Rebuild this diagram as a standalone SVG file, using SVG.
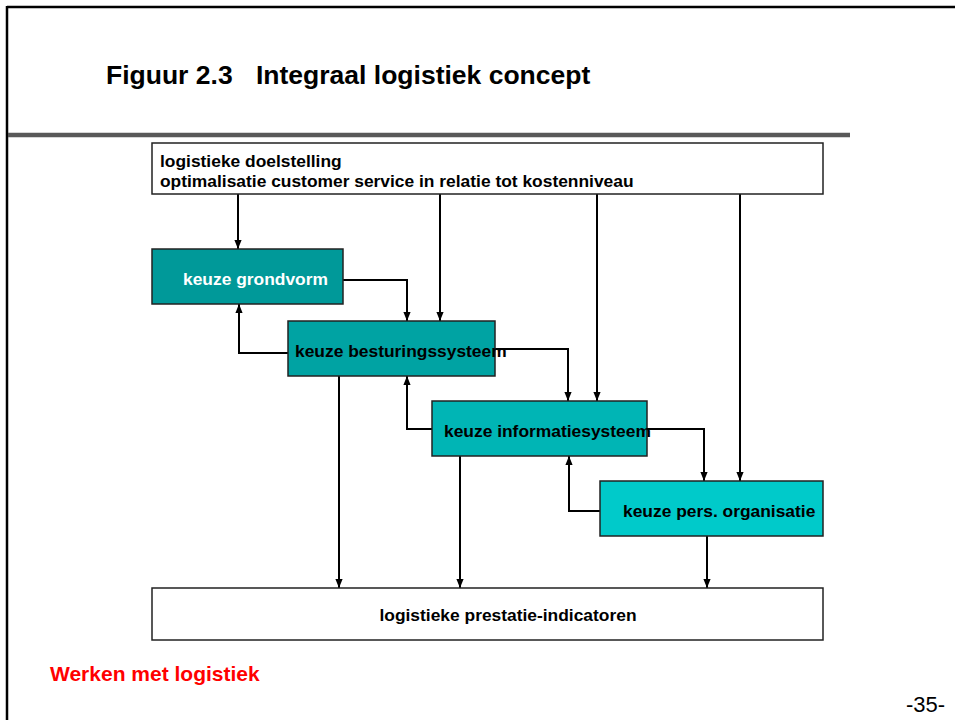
<svg xmlns="http://www.w3.org/2000/svg" width="955" height="720" viewBox="0 0 955 720">
<defs>
<style>
.t{font-family:"Liberation Sans",Arial,sans-serif;font-weight:bold;}
.s{font-size:17.4px;}
.box{stroke:#222;stroke-width:1.5;}
.c{fill:none;stroke:#000;stroke-width:2;marker-end:url(#ah);}
</style>
<marker id="ah" viewBox="0 0 10 10" refX="10" refY="5" markerWidth="9" markerHeight="9" markerUnits="userSpaceOnUse" orient="auto">
<path d="M0,1 L10,5 L0,9 Z" fill="#000"/>
</marker>
</defs>
<rect width="955" height="720" fill="#fff"/>
<g id="frame">
<line x1="7" y1="7" x2="955" y2="7" stroke="#000" stroke-width="2.5"/>
<line x1="7" y1="6" x2="7" y2="720" stroke="#000" stroke-width="2.5"/>
<line x1="8" y1="135" x2="850" y2="135" stroke="#595959" stroke-width="4.5"/>
</g>
<g id="title">
<text class="t" x="106" y="84" font-size="26.5" fill="#000">Figuur 2.3</text>
<text class="t" x="256" y="84" font-size="26.5" fill="#000">Integraal logistiek concept</text>
</g>
<g id="connectors">
<path class="c" d="M238,194 V249"/>
<path class="c" d="M440,194 V321"/>
<path class="c" d="M597,194 V401"/>
<path class="c" d="M740,194 V481"/>
<path class="c" d="M343,280 H407 V321"/>
<path class="c" d="M288,353 H239 V304"/>
<path class="c" d="M495,349 H568 V401"/>
<path class="c" d="M432,429 H407 V376"/>
<path class="c" d="M647,429 H704 V481"/>
<path class="c" d="M600,511 H569 V456"/>
<path class="c" d="M339,376 V588"/>
<path class="c" d="M460,456 V588"/>
<path class="c" d="M707,536 V588"/>
</g>
<g id="doelstelling">
<rect class="box" x="152" y="143" width="671" height="51" fill="#fff"/>
<text class="t s" x="160" y="167" fill="#000">logistieke doelstelling</text>
<text class="t s" x="160" y="187" fill="#000">optimalisatie customer service in relatie tot kostenniveau</text>
</g>
<g id="grondvorm">
<rect class="box" x="152" y="249" width="191" height="55" fill="#009999"/>
<text class="t s" x="183" y="285" fill="#fff">keuze grondvorm</text>
</g>
<g id="besturingssysteem">
<rect class="box" x="288" y="321" width="207" height="55" fill="#00A3A3"/>
<text class="t s" x="295" y="357" fill="#000">keuze besturingssysteem</text>
</g>
<g id="informatiesysteem">
<rect class="box" x="432" y="401" width="215" height="55" fill="#00B5B5"/>
<text class="t s" x="444" y="437" fill="#000">keuze informatiesysteem</text>
</g>
<g id="organisatie">
<rect class="box" x="600" y="481" width="223" height="55" fill="#00CACA"/>
<text class="t s" x="623" y="517" fill="#000">keuze pers. organisatie</text>
</g>
<g id="prestatie">
<rect class="box" x="152" y="588" width="671" height="52" fill="#fff"/>
<text class="t s" x="508" y="621" fill="#000" text-anchor="middle">logistieke prestatie-indicatoren</text>
</g>
<g id="footer">
<text class="t" x="50" y="681" font-size="21" fill="#FF0000">Werken met logistiek</text>
<text x="945" y="712" font-size="22" fill="#000" text-anchor="end" font-family="Liberation Sans, Arial, sans-serif">-35-</text>
</g>
</svg>
